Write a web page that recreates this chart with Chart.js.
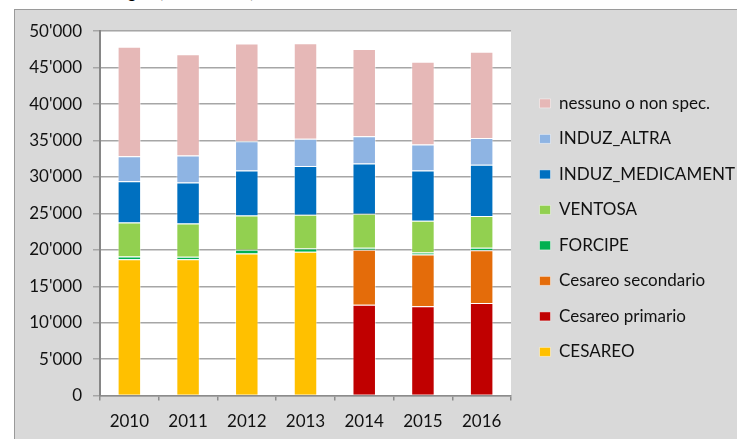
<!DOCTYPE html>
<html>
<head>
<meta charset="utf-8">
<script src="https://cdn.jsdelivr.net/npm/chart.js@4/dist/chart.umd.min.js"></script>
<style>
  html, body { margin:0; padding:0; background:#ffffff; overflow:hidden; width:737px; height:439px; }
  #title { position:absolute; left:0; top:-18px; font-family:Lato, sans-serif; font-size:17px; line-height:20px; color:#000; white-space:nowrap; }
  #box { position:absolute; left:14px; top:9px; width:760px; height:460px; background:#d9d9d9; border:1px solid #9a9a9a; box-sizing:border-box; }
  #c { position:absolute; left:15px; top:10px; }
</style>
</head>
<body>
<div id="title"><span style="padding-left:2px">Modalità di travaglio (numero tot.)</span></div>
<div id="box"></div>
<canvas id="c" width="734" height="440"></canvas>
<script>
const years = ['2010','2011','2012','2013','2014','2015','2016'];
const cesareo            = [18700, 18700, 19500, 19750, null, null, null];
const cesareoPrimario    = [null, null, null, null, 12450, 12250, 12700];
const cesareoSecondario  = [null, null, null, null, 7550, 7100, 7250];
const forcipe            = [400, 350, 500, 450, 300, 300, 330];
const ventosa            = [4650, 4550, 4700, 4600, 4650, 4350, 4350];
const induzMedicament    = [5650, 5650, 6200, 6700, 6900, 6900, 7050];
const induzAltra         = [3450, 3700, 4000, 3750, 3750, 3550, 3650];
const nessuno            = [15000, 13900, 13400, 13100, 11950, 11350, 11850];
const yMin = 0, yMax = 50000, yStep = 5000;

const seriesNames = ['CESAREO','Cesareo primario','Cesareo secondario','FORCIPE','VENTOSA','INDUZ_MEDICAMENT','INDUZ_ALTRA','nessuno o non spec.'];
const seriesData  = [cesareo, cesareoPrimario, cesareoSecondario, forcipe, ventosa, induzMedicament, induzAltra, nessuno];
const seriesColors = ['#FFC000','#C00000','#E46C0A','#00B050','#92D050','#0070C0','#8EB4E3','#E6B8B7'];

const plotBg = {
  id: 'plotBg',
  beforeDraw(chart) {
    const {ctx, chartArea: a} = chart;
    ctx.save();
    ctx.fillStyle = '#ffffff';
    ctx.fillRect(a.left, a.top, a.right - a.left, a.bottom - a.top);
    ctx.restore();
  }
};

const font = { family: 'Lato, sans-serif', size: 17 };

new Chart(document.getElementById('c'), {
  type: 'bar',
  data: {
    labels: years,
    datasets: seriesNames.map((n, i) => ({
      label: n,
      data: seriesData[i],
      backgroundColor: seriesColors[i],
      borderColor: 'rgba(255,255,255,0.45)',
      borderWidth: 1,
      barPercentage: 0.4,
      categoryPercentage: 1.0
    }))
  },
  options: {
    responsive: false,
    animation: false,
    layout: { padding: { left: 0, right: 4, top: 21, bottom: 7 } },
    plugins: {
      legend: {
        position: 'right',
        align: 'start',
        reverse: true,
        maxWidth: 260,
        title: { display: true, text: ' ', font: font, padding: { top: 25, bottom: 0 } },
        labels: {
          boxWidth: 11,
          boxHeight: 9,
          padding: 18.5,
          color: '#111',
          font: font
        }
      },
      tooltip: { enabled: false }
    },
    scales: {
      x: {
        stacked: true,
        grid: { display: true, drawOnChartArea: false, drawTicks: true, tickLength: 5, color: '#8c8c8c', lineWidth: 1.5, offset: true },
        border: { display: true, color: '#8c8c8c', width: 1.5 },
        ticks: { color: '#111', font: font, padding: 11 }
      },
      y: {
        stacked: true,
        min: yMin, max: yMax,
        grid: { color: '#a6a6a6', lineWidth: 1.5, tickLength: 7 },
        border: { display: true, color: '#868686', width: 2 },
        ticks: {
          stepSize: yStep,
          color: '#111',
          font: font,
          padding: 11,
          callback: v => String(v).replace(/\B(?=(\d{3})+(?!\d))/g, "'")
        },
        afterFit(s) { s.width = 85; }
      },
      yR: {
        position: 'right',
        display: true,
        grid: { display: false, drawTicks: false },
        border: { display: false },
        ticks: { display: false },
        afterFit(s) { s.width = 10; }
      }
    }
  },
  plugins: [plotBg]
});
</script>
</body>
</html>
